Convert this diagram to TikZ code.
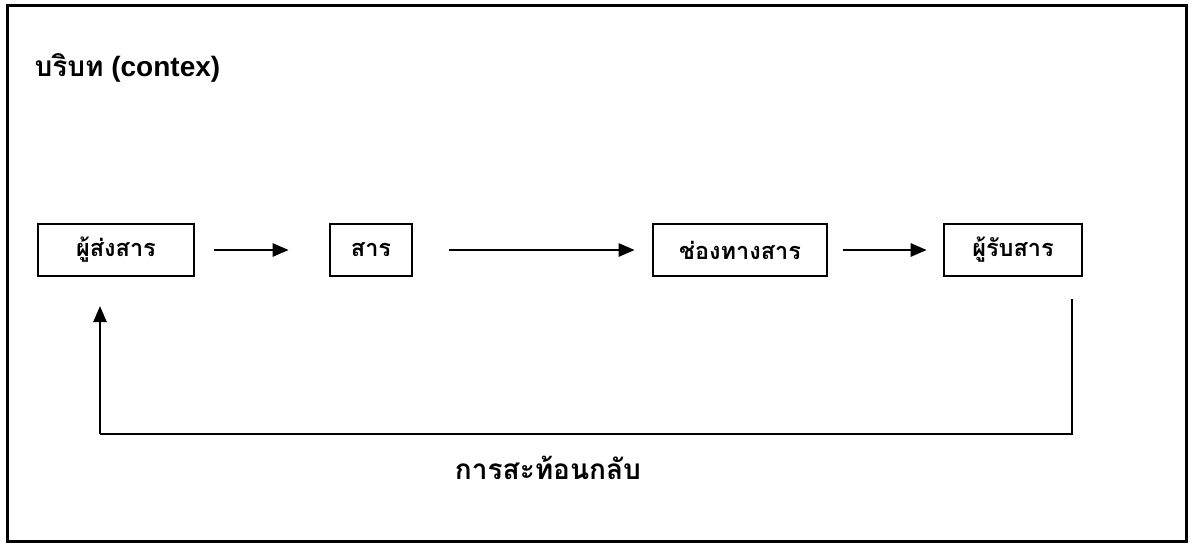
\documentclass[tikz,border=0pt]{standalone}
\usepackage{fontspec}
\setmainfont{Liberation Sans}
\newfontfamily\thaifont[Script=Thai]{Loma}
\usetikzlibrary{arrows.meta}
\begin{document}
\begin{tikzpicture}[x=1pt,y=-1pt,
  thaitxt/.style={font=\thaifont\bfseries\fontsize{28}{32}\selectfont},
  box/.style={draw,line width=2.6pt,minimum height=52pt,inner sep=0pt,font=\thaifont\bfseries\fontsize{23.5}{28}\selectfont},
  conn/.style={line width=2.6pt,-{Triangle[length=16pt,width=13pt]}},
  plain/.style={line width=2.6pt}]
\useasboundingbox (0,0) rectangle (1196,544);
\draw[line width=3pt] (7,5) rectangle (1186,541);
\node[anchor=west,font=\bfseries\fontsize{28}{31}\selectfont] (title) at (31,68) {{\thaifont บริบท} (contex)};
\node[box,minimum width=156pt] (s) at (116,250) {ผู้ส่งสาร};
\node[box,minimum width=82pt] (m) at (371,250) {สาร};
\node[box,minimum width=174pt] (c) at (740,250) {ช่องทางสาร};
\node[box,minimum width=138pt] (r) at (1013,250) {ผู้รับสาร};
\draw[conn] ([xshift=19pt]s.east) -- ([xshift=-40pt]m.west);
\draw[conn] ([xshift=36pt]m.east) -- ([xshift=-17pt]c.west);
\draw[conn] ([xshift=15pt]c.east) -- ([xshift=-16pt]r.west);
\coordinate (rt) at (1072,299);
\coordinate (rb) at (1072,434);
\coordinate (lb) at (100,434);
\coordinate (lt) at (100,306);
\draw[plain] (rt) -- (rb) -- (lb);
\draw[conn] (lb) -- (lt);
\node[thaitxt] (fb) at (548,468) {การสะท้อนกลับ};
\end{tikzpicture}
\end{document}
